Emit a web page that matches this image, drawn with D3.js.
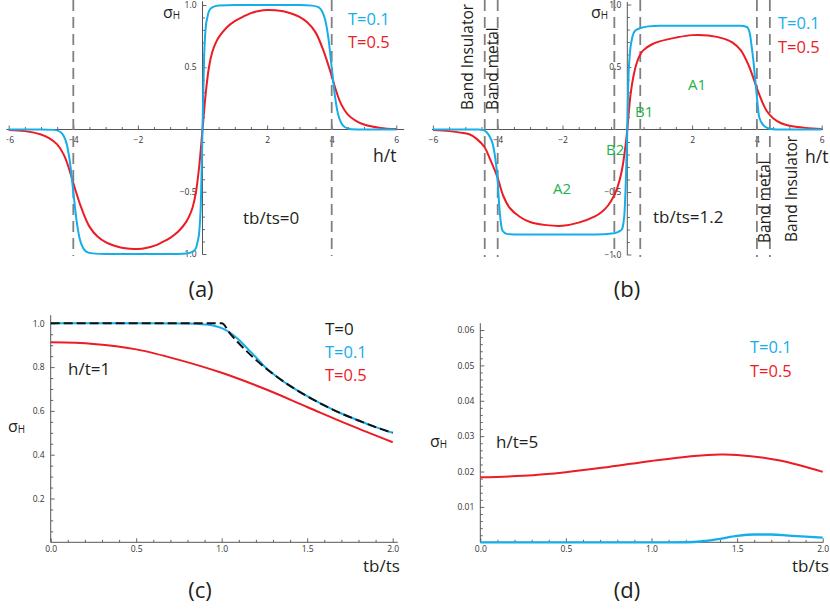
<!DOCTYPE html>
<html><head><meta charset="utf-8">
<script src="https://cdn.jsdelivr.net/npm/d3@7"></script>
<style>
body{margin:0;background:#fff}
svg{display:block}
text{font-family:'Open Sans','Liberation Sans',sans-serif}
</style>
</head><body>
<svg id="chart" width="830" height="610"></svg>
<script>
// ---------------- DATA ----------------
// Panel (a): tb/ts = 0, sigma_H vs h/t
const aBlue = [[-6,0],[-5,0],[-4.6,-0.003],[-4.4,-0.02],[-4.3,-0.05],[-4.2,-0.12],[-4.1,-0.27],[-4.0,-0.5],[-3.9,-0.73],[-3.8,-0.88],[-3.7,-0.95],[-3.6,-0.98],[-3.4,-0.995],[-3,-1],[-1,-1],[-0.5,-0.995],[-0.3,-0.98],[-0.2,-0.95],[-0.15,-0.9],[-0.1,-0.82],[-0.05,-0.58],[0,0],[0.05,0.58],[0.1,0.82],[0.15,0.9],[0.2,0.95],[0.3,0.98],[0.5,0.995],[1,1],[3,1],[3.4,0.995],[3.6,0.98],[3.7,0.95],[3.8,0.88],[3.9,0.73],[4.0,0.5],[4.1,0.27],[4.2,0.12],[4.3,0.05],[4.4,0.02],[4.6,0.003],[5,0],[6,0]];
const aRed = [[-6,-0.004],[-5.5,-0.013],[-5,-0.04],[-4.75,-0.07],[-4.5,-0.12],[-4.3,-0.2],[-4.15,-0.3],[-4,-0.43],[-3.75,-0.63],[-3.5,-0.78],[-3.25,-0.86],[-3,-0.905],[-2.75,-0.932],[-2.5,-0.95],[-2.25,-0.958],[-2,-0.96],[-1.75,-0.952],[-1.5,-0.935],[-1.25,-0.905],[-1,-0.87],[-0.75,-0.82],[-0.5,-0.74],[-0.4,-0.69],[-0.3,-0.62],[-0.2,-0.5],[-0.1,-0.29],[0,0],[0.1,0.29],[0.2,0.5],[0.3,0.62],[0.4,0.69],[0.5,0.74],[0.75,0.82],[1,0.87],[1.25,0.905],[1.5,0.935],[1.75,0.952],[2,0.96],[2.25,0.958],[2.5,0.95],[2.75,0.932],[3,0.905],[3.25,0.86],[3.5,0.78],[3.75,0.63],[4,0.43],[4.15,0.3],[4.3,0.2],[4.5,0.12],[4.75,0.07],[5,0.04],[5.5,0.013],[6,0.004]];
const aDashed = [-4, 4];

// Panel (b): tb/ts = 1.2
const bBlue = [[-6,0],[-4.6,0],[-4.44,-0.005],[-4.35,-0.02],[-4.24,-0.06],[-4.15,-0.12],[-4.08,-0.22],[-4.01,-0.38],[-3.95,-0.62],[-3.9,-0.75],[-3.85,-0.81],[-3.72,-0.835],[-3.5,-0.84],[-1,-0.84],[-0.41,-0.83],[-0.25,-0.815],[-0.17,-0.8],[-0.12,-0.75],[-0.09,-0.68],[-0.05,-0.45],[-0.02,-0.2],[0,0],[0.03,0.37],[0.08,0.61],[0.14,0.72],[0.24,0.79],[0.39,0.81],[0.65,0.825],[1,0.83],[3.5,0.83],[3.69,0.82],[3.78,0.77],[3.84,0.66],[3.9,0.53],[3.94,0.42],[4.0,0.26],[4.07,0.1],[4.2,0.035],[4.35,0.01],[4.5,0.002],[4.7,0],[6,0]];
const bRed = [[-6,-0.005],[-5.5,-0.013],[-5.2,-0.023],[-4.86,-0.04],[-4.65,-0.075],[-4.41,-0.14],[-4.24,-0.235],[-4.01,-0.38],[-3.83,-0.53],[-3.62,-0.63],[-3.31,-0.7],[-3,-0.74],[-2.5,-0.765],[-2,-0.77],[-1.5,-0.745],[-1,-0.695],[-0.79,-0.66],[-0.6,-0.61],[-0.41,-0.53],[-0.3,-0.46],[-0.17,-0.33],[-0.05,-0.12],[0,0],[0.1,0.28],[0.2,0.44],[0.3,0.54],[0.4,0.6],[0.5,0.635],[0.75,0.68],[1,0.705],[1.5,0.735],[2,0.755],[2.5,0.752],[3,0.725],[3.25,0.695],[3.5,0.635],[3.75,0.51],[4,0.33],[4.15,0.23],[4.3,0.15],[4.5,0.09],[4.75,0.05],[5,0.03],[5.5,0.013],[6,0.005]];
const bDashed = [-4.4, -4, -0.4, 0.4, 4, 4.4];

// Panel (c): h/t = 1, sigma_H vs tb/ts
const cTb = [0, 0.25, 0.5, 0.75, 1.0, 1.25, 1.5, 1.75, 2.0];
const cRed = [0.913, 0.906, 0.881, 0.833, 0.774, 0.701, 0.618, 0.535, 0.457];
const cBlue = [[0,1],[0.5,1],[0.8,0.999],[0.9,0.995],[0.95,0.99],[1.0,0.978],[1.05,0.957],[1.1,0.925],[1.15,0.885],[1.2,0.845],[1.25,0.803],[1.3,0.77],[1.4,0.714],[1.5,0.667],[1.6,0.625],[1.7,0.588],[1.8,0.556],[1.9,0.526],[2.0,0.5]];
const cBlack = [[0,1],[1.0,1],[1.05,0.952],[1.1,0.909],[1.2,0.833],[1.3,0.769],[1.4,0.714],[1.5,0.667],[1.6,0.625],[1.7,0.588],[1.8,0.556],[1.9,0.526],[2.0,0.5]];

// Panel (d): h/t = 5
const dTb = [0, 0.25, 0.5, 0.75, 1.0, 1.25, 1.4, 1.5, 1.75, 2.0];
const dRed = [0.0184, 0.0188, 0.0198, 0.0213, 0.0230, 0.0244, 0.0248, 0.0247, 0.0231, 0.0199];
const dBlue = [[0,0],[1.0,0],[1.2,0.00002],[1.3,0.0003],[1.4,0.001],[1.5,0.0018],[1.6,0.0022],[1.7,0.0022],[1.8,0.0019],[1.9,0.0016],[2.0,0.0013]];

// Tick labels
const hTicks = [-6, -4, -2, 2, 4, 6];
const hTickLabels = ["\u22126", "\u22124", "\u22122", "2", "4", "6"];
const sTicks = [-1, -0.5, 0.5, 1];
const sTickLabels = ["\u22121.0", "\u22120.5", "0.5", "1.0"];
const tbTicks = [0, 0.5, 1, 1.5, 2];
const tbTickLabels = ["0.0", "0.5", "1.0", "1.5", "2.0"];
const cYTicks = [0.2, 0.4, 0.6, 0.8, 1.0];
const cYTickLabels = ["0.2", "0.4", "0.6", "0.8", "1.0"];
const dYTicks = [0.01, 0.02, 0.03, 0.04, 0.05, 0.06];
const dYTickLabels = ["0.01", "0.02", "0.03", "0.04", "0.05", "0.06"];

// ---------------- STYLE ----------------
const BLUE = "#16aee8", RED = "#ec1c24", GREEN = "#20b24a", INK = "#231f20", AXIS = "#555", DASH = "#808080";
const svg = d3.select("#chart");
svg.append("rect").attr("width", 830).attr("height", 610).attr("fill", "#fff");

function minorRange(a, b, step, majors) {
  return d3.range(Math.round((b - a) / step) + 1).map(i => +(a + i * step).toFixed(6))
    .filter(v => !majors.some(m => Math.abs(m - v) < 1e-9));
}

function drawAxes(g, x, y, o) {
  g.append("g").attr("transform", `translate(0,${y(o.xAt)})`)
    .call(d3.axisBottom(x).tickValues(o.xMinor).tickSize(-2.5).tickFormat(""))
    .call(s => s.select(".domain").remove());
  g.append("g").attr("transform", `translate(0,${y(o.xAt)})`)
    .call(d3.axisBottom(x).tickValues(o.xMajor).tickSize(-4).tickPadding(o.xPad)
      .tickFormat((d, i) => o.xLabels[i]))
    .call(s => s.select(".domain").remove());
  g.append("g").attr("transform", `translate(${x(o.yAt)},0)`)
    .call(d3.axisLeft(y).tickValues(o.yMinor).tickSize(-2.5).tickFormat(""))
    .call(s => s.select(".domain").remove());
  g.append("g").attr("transform", `translate(${x(o.yAt)},0)`)
    .call(d3.axisLeft(y).tickValues(o.yMajor).tickSize(-4).tickPadding(6)
      .tickFormat((d, i) => o.yLabels[i]))
    .call(s => s.select(".domain").remove());
  g.selectAll(".tick line").attr("stroke", AXIS).attr("stroke-width", 0.9);
  g.selectAll(".tick text").attr("font-size", 8.5).attr("fill", "#333")
    .attr("font-family", "'Open Sans',sans-serif");
  g.append("line").attr("x1", x(o.xExt[0])).attr("x2", x(o.xExt[1]))
    .attr("y1", y(o.xAt)).attr("y2", y(o.xAt)).attr("stroke", AXIS).attr("stroke-width", 1);
  g.append("line").attr("x1", x(o.yAt)).attr("x2", x(o.yAt))
    .attr("y1", y(o.yExt[0])).attr("y2", y(o.yExt[1])).attr("stroke", AXIS).attr("stroke-width", 1);
}

function curve(g, x, y, pts, color, w, dash, smooth) {
  const line = d3.line().x(d => x(d[0])).y(d => y(d[1]))
    .curve(smooth ? d3.curveCatmullRom.alpha(0.5) : d3.curveMonotoneX);
  const p = g.append("path").datum(pts).attr("d", line).attr("fill", "none")
    .attr("stroke", color).attr("stroke-width", w).attr("stroke-linejoin", "round");
  if (dash) p.attr("stroke-dasharray", dash);
  return p;
}

function label(g, x, y, txt, size, color, anchor) {
  return g.append("text").attr("x", x).attr("y", y).attr("font-size", size)
    .attr("fill", color || INK).attr("text-anchor", anchor || "start").text(txt);
}

function sigmaH(g, x, y, size) {
  const t = g.append("text").attr("x", x).attr("y", y).attr("font-size", size).attr("fill", INK);
  t.append("tspan").text("\u03c3");
  t.append("tspan").attr("font-size", size * 0.62).attr("dy", 1).text("H");
}

// ---------------- PANEL (a) ----------------
const defs = svg.append("defs");
defs.append("clipPath").attr("id", "clipA").append("rect")
  .attr("x", 6.5).attr("y", 0).attr("width", 410).attr("height", 270);
const gA = svg.append("g").attr("clip-path", "url(#clipA)");
const xA = d3.scaleLinear().domain([-6, 6]).range([8.7, 396.3]);
const yA = d3.scaleLinear().domain([-1, 1]).range([254, 5]);
drawAxes(gA, xA, yA, {
  xAt: 0, yAt: 0, xExt: [-6.1, 6.24], yExt: [-1.005, 1.03],
  xMajor: hTicks, xLabels: hTickLabels, xMinor: minorRange(-6, 6, 0.5, hTicks.concat([0])), xPad: 7,
  yMajor: sTicks, yLabels: sTickLabels, yMinor: minorRange(-1, 1, 0.1, sTicks.concat([0]))
});
aDashed.forEach(v => gA.append("line").attr("x1", xA(v)).attr("x2", xA(v))
  .attr("y1", 0).attr("y2", 256).attr("stroke", DASH).attr("stroke-width", 1.8)
  .attr("stroke-dasharray", "11,6"));
curve(gA, xA, yA, aRed, RED, 2, null, true);
curve(gA, xA, yA, aBlue, BLUE, 2);
sigmaH(svg, 163, 18, 16);
label(svg, 348, 25, "T=0.1", 16.5, BLUE);
label(svg, 348, 48, "T=0.5", 16.5, RED);
label(svg, 373, 162, "h/t", 17.5);
label(svg, 243, 224, "tb/ts=0", 17);
label(svg, 201, 297, "(a)", 22, null, "middle");

// ---------------- PANEL (b) ----------------
const gB = svg.append("g");
const xB = d3.scaleLinear().domain([-6, 6]).range([432.9, 821.7]);
const yB = d3.scaleLinear().domain([-1, 1]).range([254.5, 4.5]);
drawAxes(gB, xB, yB, {
  xAt: 0, yAt: 0, xExt: [-6.03, 6.04], yExt: [-1.005, 1.02],
  xMajor: hTicks, xLabels: hTickLabels, xMinor: minorRange(-6, 6, 0.5, hTicks.concat([0])), xPad: 7,
  yMajor: sTicks, yLabels: sTickLabels, yMinor: minorRange(-1, 1, 0.1, sTicks.concat([0]))
});
bDashed.forEach(v => gB.append("line").attr("x1", xB(v)).attr("x2", xB(v))
  .attr("y1", 0).attr("y2", 257).attr("stroke", DASH).attr("stroke-width", 1.8)
  .attr("stroke-dasharray", "11,6"));
curve(gB, xB, yB, bRed, RED, 2, null, true);
curve(gB, xB, yB, bBlue, BLUE, 2);
sigmaH(svg, 591, 18, 16);
label(svg, 778, 29, "T=0.1", 16.5, BLUE);
label(svg, 778, 53, "T=0.5", 16.5, RED);
label(svg, 805, 163, "h/t", 17.5);
label(svg, 653, 223, "tb/ts=1.2", 17);
label(svg, 688, 90, "A1", 15, GREEN);
label(svg, 635, 117, "B1", 15, GREEN);
label(svg, 606, 155, "B2", 15, GREEN);
label(svg, 553, 194, "A2", 15, GREEN);
[[473, 110, "Band Insulator"], [498, 110, "Band metal"], [770, 243, "Band metal"], [796.5, 242, "Band Insulator"]]
  .forEach(([px, py, t]) => svg.append("text").attr("transform", `translate(${px},${py}) rotate(-90)`)
    .attr("font-size", 15.5).attr("fill", INK).text(t));
label(svg, 627, 297, "(b)", 22, null, "middle");

// ---------------- PANEL (c) ----------------
const gC = svg.append("g");
const xC = d3.scaleLinear().domain([0, 2]).range([50.7, 392.7]);
const yC = d3.scaleLinear().domain([0, 1]).range([542.3, 323.3]);
drawAxes(gC, xC, yC, {
  xAt: 0, yAt: 0, xExt: [0, 2.03], yExt: [0, 1.037],
  xMajor: tbTicks, xLabels: tbTickLabels, xMinor: minorRange(0, 2, 0.1, tbTicks), xPad: 4,
  yMajor: cYTicks, yLabels: cYTickLabels, yMinor: minorRange(0, 1, 0.05, cYTicks.concat([0]))
});
curve(gC, xC, yC, cTb.map((t, i) => [t, cRed[i]]), RED, 2, null, true);
curve(gC, xC, yC, cBlue, BLUE, 2);
curve(gC, xC, yC, cBlack, "#111", 2, "9,4");
label(svg, 325, 335, "T=0", 17);
label(svg, 325, 358, "T=0.1", 16.5, BLUE);
label(svg, 325, 381, "T=0.5", 16.5, RED);
label(svg, 68, 375, "h/t=1", 17);
sigmaH(svg, 8, 432, 16);
label(svg, 363, 572, "tb/ts", 17);
label(svg, 200, 598, "(c)", 22, null, "middle");

// ---------------- PANEL (d) ----------------
const gD = svg.append("g");
const xD = d3.scaleLinear().domain([0, 2]).range([480.3, 822.7]);
const yD = d3.scaleLinear().domain([0, 0.06]).range([542.3, 330]);
drawAxes(gD, xD, yD, {
  xAt: 0, yAt: 0, xExt: [0, 2.004], yExt: [0, 0.0619],
  xMajor: tbTicks, xLabels: tbTickLabels, xMinor: minorRange(0, 2, 0.1, tbTicks), xPad: 4,
  yMajor: dYTicks, yLabels: dYTickLabels, yMinor: minorRange(0, 0.06, 0.002, dYTicks.concat([0]))
});
curve(gD, xD, yD, dTb.map((t, i) => [t, dRed[i]]), RED, 2, null, true);
curve(gD, xD, yD, dBlue, BLUE, 2.3);
label(svg, 750, 353, "T=0.1", 16.5, BLUE);
label(svg, 750, 377, "T=0.5", 16.5, RED);
label(svg, 496, 448, "h/t=5", 17);
sigmaH(svg, 430, 447, 16);
label(svg, 792, 572, "tb/ts", 17);
label(svg, 627, 598, "(d)", 22, null, "middle");
</script>
</body></html>
